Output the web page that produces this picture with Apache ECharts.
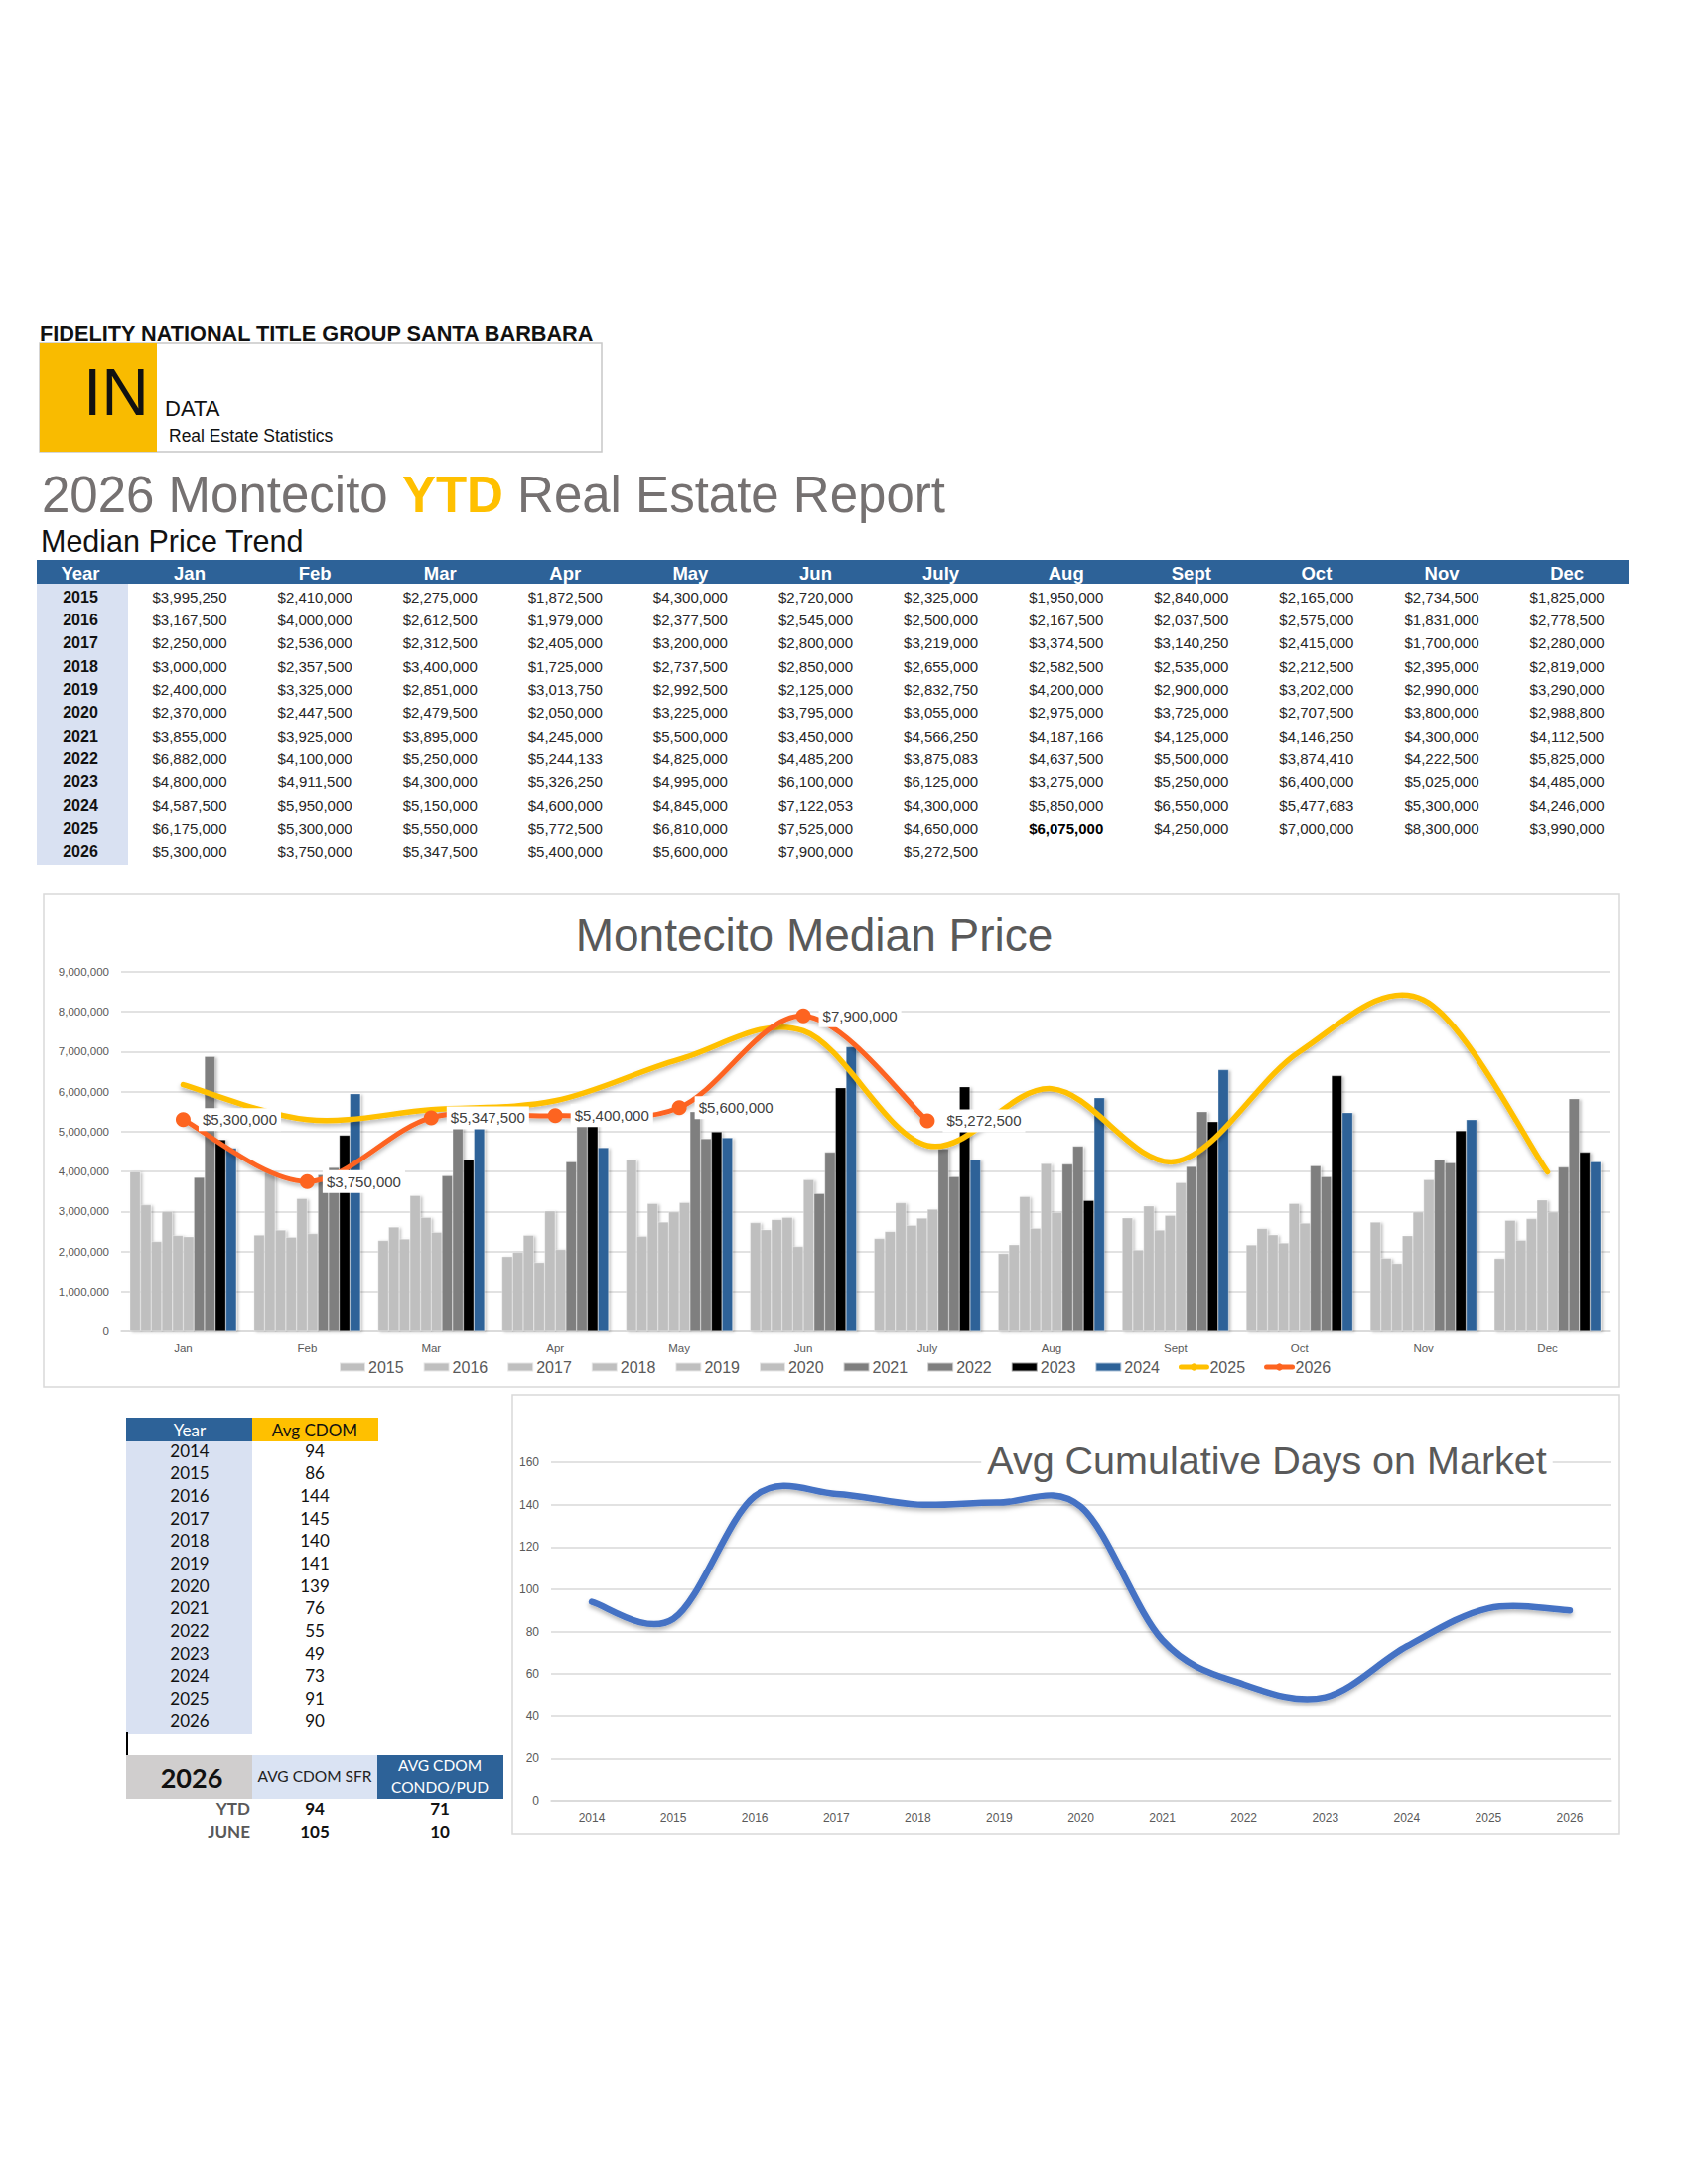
<!DOCTYPE html>
<html>
<head>
<meta charset="utf-8">
<script src="https://cdn.jsdelivr.net/npm/echarts@6.0.0/dist/echarts.min.js"></script>
<style>
html,body{margin:0;padding:0;background:#fff;}
#c{width:1700px;height:2200px;}
</style>
</head>
<body>
<div id="c"></div>
<script>
// ---------------- DATA ----------------
const months = ['Jan','Feb','Mar','Apr','May','Jun','July','Aug','Sept','Oct','Nov','Dec'];
const years = ['2015','2016','2017','2018','2019','2020','2021','2022','2023','2024','2025','2026'];
const price2015 = [3995250,2410000,2275000,1872500,4300000,2720000,2325000,1950000,2840000,2165000,2734500,1825000];
const price2016 = [3167500,4000000,2612500,1979000,2377500,2545000,2500000,2167500,2037500,2575000,1831000,2778500];
const price2017 = [2250000,2536000,2312500,2405000,3200000,2800000,3219000,3374500,3140250,2415000,1700000,2280000];
const price2018 = [3000000,2357500,3400000,1725000,2737500,2850000,2655000,2582500,2535000,2212500,2395000,2819000];
const price2019 = [2400000,3325000,2851000,3013750,2992500,2125000,2832750,4200000,2900000,3202000,2990000,3290000];
const price2020 = [2370000,2447500,2479500,2050000,3225000,3795000,3055000,2975000,3725000,2707500,3800000,2988800];
const price2021 = [3855000,3925000,3895000,4245000,5500000,3450000,4566250,4187166,4125000,4146250,4300000,4112500];
const price2022 = [6882000,4100000,5250000,5244133,4825000,4485200,3875083,4637500,5500000,3874410,4222500,5825000];
const price2023 = [4800000,4911500,4300000,5326250,4995000,6100000,6125000,3275000,5250000,6400000,5025000,4485000];
const price2024 = [4587500,5950000,5150000,4600000,4845000,7122053,4300000,5850000,6550000,5477683,5300000,4246000];
const price2025 = [6175000,5300000,5550000,5772500,6810000,7525000,4650000,6075000,4250000,7000000,8300000,3990000];
const price2026 = [5300000,3750000,5347500,5400000,5600000,7900000,5272500];
const priceRows = [price2015,price2016,price2017,price2018,price2019,price2020,price2021,price2022,price2023,price2024,price2025,price2026];

const priceTicks = [0,1000000,2000000,3000000,4000000,5000000,6000000,7000000,8000000,9000000];

const cdomYears = ['2014','2015','2016','2017','2018','2019','2020','2021','2022','2023','2024','2025','2026'];
const cdomValues = [94,86,144,145,140,141,139,76,55,49,73,91,90];
const cdomTicks = [0,20,40,60,80,100,120,140,160];

const summaryYear = '2026';
const summaryHeaders = ['AVG CDOM SFR','AVG CDOM\nCONDO/PUD'];
const summaryLabels = ['YTD','JUNE'];
const summarySFR = [94,105];
const summaryCondo = [71,10];

// ---------------- HELPERS ----------------
const fmtMoney = v => '$' + v.toLocaleString('en-US');
const AR = "'Liberation Sans', Arial, Helvetica, sans-serif";
const LATO = "Lato, 'Open Sans', sans-serif";

function txt(x, y, text, o) {
  o = o || {};
  return {
    type: 'text', x: x, y: y, z: o.z || 10,
    style: Object.assign({
      text: text,
      fill: o.fill || '#222',
      fontSize: o.size || 15,
      fontFamily: o.family || AR,
      fontWeight: o.weight || 'normal',
      textAlign: o.align || 'left',
      textVerticalAlign: 'middle'
    }, o.extra || {})
  };
}
function rect(x, y, w, h, fill, stroke, lw, z) {
  return {
    type: 'rect', z: z || 5,
    shape: {x: x, y: y, width: w, height: h},
    style: {fill: fill || 'none', stroke: stroke || null, lineWidth: lw || 0}
  };
}

const g = [];
// ---- header / logo ----
g.push(txt(40, 335, 'FIDELITY NATIONAL TITLE GROUP SANTA BARBARA', {size: 21.7, weight: 'bold', fill: '#111'}));
g.push(rect(40, 346, 566, 109, '#fff', '#c8c8c8', 1.5));
g.push(rect(40, 346, 118, 109, '#f9bb00'));
g.push(txt(84, 395, 'IN', {size: 66, fill: '#111'}));
g.push(txt(166, 411, 'DATA', {size: 22, fill: '#111'}));
g.push(txt(170, 439, 'Real Estate Statistics', {size: 17.5, fill: '#111'}));

g.push({
  type: 'text', x: 42, y: 498, z: 10,
  style: {
    text: '{a|2026 Montecito }{b|YTD}{a| Real Estate Report}',
    textVerticalAlign: 'middle',
    rich: {
      a: {fontSize: 51, fontFamily: AR, fill: '#757171', color: '#757171'},
      b: {fontSize: 51, fontFamily: AR, fontWeight: 'bold', fill: '#ffc000', color: '#ffc000'}
    }
  }
});
g.push(txt(41, 545, 'Median Price Trend', {size: 30.5, fill: '#111'}));

// ---- Median price table ----
const tblLeft = 37, tblRight = 1641, hdrTop = 564, hdrH = 24;
const rowY0 = 601, rowStep = 23.36, yearColX = 81, colX0 = 191, colStep = 126.1;
g.push(rect(tblLeft, hdrTop, tblRight - tblLeft, hdrH, '#2d6298'));
g.push(rect(tblLeft, hdrTop + hdrH, 92, 283, '#d9e1f2'));
g.push(txt(yearColX, hdrTop + hdrH / 2 + 1, 'Year', {size: 18.5, weight: 'bold', fill: '#fff', align: 'center'}));
months.forEach((m, j) => {
  g.push(txt(colX0 + j * colStep, hdrTop + hdrH / 2 + 1, m, {size: 18.5, weight: 'bold', fill: '#fff', align: 'center'}));
});
years.forEach((yr, i) => {
  const y = rowY0 + i * rowStep;
  g.push(txt(yearColX, y, yr, {size: 16, weight: 'bold', fill: '#111', align: 'center'}));
  priceRows[i].forEach((v, j) => {
    const bold = (yr === '2025' && months[j] === 'Aug');
    g.push(txt(colX0 + j * colStep, y, fmtMoney(v), {size: 15, fill: bold ? '#000' : '#262626', weight: bold ? 'bold' : 'normal', align: 'center'}));
  });
});

// ---- chart boxes and titles ----
g.push(rect(44, 901, 1587, 496, 'none', '#d9d9d9', 1.5, 1));
g.push(txt(820, 942, 'Montecito Median Price', {size: 46, fill: '#595959', align: 'center'}));
g.push(rect(516, 1405, 1115, 442, 'none', '#d9d9d9', 1.5, 1));
g.push(txt(1276, 1471, 'Avg Cumulative Days on Market', {size: 39.5, fill: '#595959', align: 'center', z: 50,
  extra: {backgroundColor: '#fff', padding: [0, 6]}}));

// ---- CDOM table ----
const cLeft = 127, cMid = 254, cRight = 381, cHdrTop = 1428, cHdrH = 24, cRow0 = 1461, cStep = 22.67;
g.push(rect(cLeft, cHdrTop, cMid - cLeft, cHdrH, '#2d6298'));
g.push(rect(cMid, cHdrTop, cRight - cMid, cHdrH, '#ffc000'));
g.push(rect(cLeft, cHdrTop + cHdrH, cMid - cLeft, 295, '#d9e1f2'));
g.push(txt(191, cHdrTop + 12, 'Year', {size: 17, family: LATO, fill: '#fff', align: 'center'}));
g.push(txt(317, cHdrTop + 12, 'Avg CDOM', {size: 17, family: LATO, fill: '#111', align: 'center'}));
cdomYears.forEach((yr, i) => {
  const y = cRow0 + i * cStep;
  g.push(txt(191, y, yr, {size: 17, family: LATO, fill: '#111', align: 'center'}));
  g.push(txt(317, y, String(cdomValues[i]), {size: 17, family: LATO, fill: '#111', align: 'center'}));
});
g.push(rect(127, 1745, 2, 23, '#000'));
// summary block
g.push(rect(127, 1768, 127, 44, '#d0cece'));
g.push(rect(254, 1768, 126, 44, '#dae3f3'));
g.push(rect(380, 1768, 127, 44, '#2d6298'));
g.push(txt(193, 1790, summaryYear, {size: 27, family: LATO, weight: 'bold', fill: '#111', align: 'center'}));
g.push(txt(317, 1789, summaryHeaders[0], {size: 15.5, family: LATO, fill: '#222', align: 'center'}));
g.push(txt(443, 1778, summaryHeaders[1].split('\n')[0], {size: 15.5, family: LATO, fill: '#fff', align: 'center'}));
g.push(txt(443, 1800, summaryHeaders[1].split('\n')[1], {size: 15.5, family: LATO, fill: '#fff', align: 'center'}));
summaryLabels.forEach((lab, i) => {
  const y = 1821 + i * 23;
  g.push(txt(252, y, lab, {size: 17, family: LATO, weight: 'bold', fill: '#595959', align: 'right'}));
  g.push(txt(317, y, String(summarySFR[i]), {size: 17, family: LATO, weight: 'bold', fill: '#111', align: 'center'}));
  g.push(txt(443, y, String(summaryCondo[i]), {size: 17, family: LATO, weight: 'bold', fill: '#111', align: 'center'}));
});

// ---------------- SERIES ----------------
// Excel-style smoothed curve (Catmull-Rom) through points placed by the axes (api.coord)
function smoothCurve(values, axisIdx, color, width, z) {
  return {
    type: 'custom', name: '_curve' + color + axisIdx, xAxisIndex: axisIdx, yAxisIndex: axisIdx,
    data: values.map((v, i) => [i, v]), encode: {x: 0, y: 1}, z: z, clip: false, silent: true,
    renderItem: function (params, api) {
      if (params.dataIndex !== 0) return null;
      const pts = values.map((v, i) => api.coord([i, v]));
      let d = 'M' + pts[0][0] + ',' + pts[0][1];
      for (let i = 0; i < pts.length - 1; i++) {
        const p0 = pts[i - 1] || pts[i], p1 = pts[i], p2 = pts[i + 1], p3 = pts[i + 2] || pts[i + 1];
        const c1x = p1[0] + (p2[0] - p0[0]) / 6, c1y = p1[1] + (p2[1] - p0[1]) / 6;
        const c2x = p2[0] - (p3[0] - p1[0]) / 6, c2y = p2[1] - (p3[1] - p1[1]) / 6;
        d += ' C' + c1x + ',' + c1y + ' ' + c2x + ',' + c2y + ' ' + p2[0] + ',' + p2[1];
      }
      return {
        type: 'path', shape: {pathData: d},
        style: {fill: 'none', stroke: color, lineWidth: width, lineCap: 'round', lineJoin: 'round',
          shadowColor: 'rgba(0,0,0,0.28)', shadowBlur: 4, shadowOffsetY: 3}
      };
    }
  };
}

const barColors = ['#bfbfbf','#bfbfbf','#bfbfbf','#bfbfbf','#bfbfbf','#bfbfbf','#7f7f7f','#7f7f7f','#000000','#2d6298'];
const series = [];
for (let i = 0; i < 10; i++) {
  series.push({
    type: 'bar', name: years[i], xAxisIndex: 0, yAxisIndex: 0,
    data: priceRows[i], barGap: '0%', barCategoryGap: '14%', z: 2,
    itemStyle: {color: barColors[i], borderColor: 'rgba(255,255,255,0.6)', borderWidth: 0.5,
      shadowColor: 'rgba(0,0,0,0.25)', shadowBlur: 3, shadowOffsetX: 2, shadowOffsetY: 1}
  });
}
const C25 = '#ffc000', C26 = '#fd6420', CBLUE = '#4472c4';
series.push(smoothCurve(price2025, 0, C25, 5.5, 4));
series.push(smoothCurve(price2026, 0, C26, 5, 5));
series.push(smoothCurve(cdomValues, 1, CBLUE, 6.5, 4));
// line series carrying legend entries, markers and data labels
series.push({
  type: 'line', name: '2025', xAxisIndex: 0, yAxisIndex: 0, data: price2025,
  symbol: 'none', z: 4, lineStyle: {color: C25, width: 5.5, opacity: 0}, itemStyle: {color: C25}
});
series.push({
  type: 'line', name: '2026', xAxisIndex: 0, yAxisIndex: 0, data: price2026,
  symbol: 'circle', symbolSize: 15, z: 6,
  lineStyle: {color: C26, width: 5, opacity: 0},
  itemStyle: {color: C26},
  label: {
    show: true, position: 'right', distance: 8,
    formatter: p => fmtMoney(p.value),
    backgroundColor: '#fff', padding: [4, 4], color: '#404040',
    fontSize: 15, fontFamily: AR
  }
});

const legendData = years.map((y, i) => {
  if (i < 10) return {name: y, icon: 'rect'};
  const c = i === 10 ? C25 : C26;
  return {name: y, lineStyle: {color: c, width: 5, opacity: 1, cap: 'round'}, itemStyle: {color: c}};
});

const option = {
  animation: false,
  backgroundColor: '#fff',
  graphic: {elements: g},
  legend: {
    data: legendData, left: 336, top: 1364, itemWidth: 26, itemHeight: 9, itemGap: 19,
    textStyle: {fontSize: 16, color: '#595959', fontFamily: AR, padding: [0, 0, 0, -2]},
    selectedMode: false
  },
  grid: [
    {left: 122, right: 79, top: 979, height: 362, containLabel: false, outerBoundsMode: 'none'},
    {left: 555, right: 78, top: 1473, height: 341, containLabel: false, outerBoundsMode: 'none'}
  ],
  xAxis: [
    {type: 'category', gridIndex: 0, data: months,
      axisLine: {lineStyle: {color: '#d9d9d9', width: 1.5}}, axisTick: {show: false},
      axisLabel: {color: '#595959', fontSize: 11.5, fontFamily: AR, margin: 11}},
    {type: 'category', gridIndex: 1, data: cdomYears,
      axisLine: {lineStyle: {color: '#d9d9d9', width: 1.5}}, axisTick: {show: false},
      axisLabel: {color: '#595959', fontSize: 12, fontFamily: AR, margin: 11}}
  ],
  yAxis: [
    {type: 'value', gridIndex: 0, min: priceTicks[0], max: priceTicks[priceTicks.length - 1], interval: 1000000,
      axisLine: {show: false}, axisTick: {show: false},
      splitLine: {lineStyle: {color: '#d9d9d9', width: 1.5}},
      axisLabel: {color: '#595959', fontSize: 11.5, fontFamily: AR, margin: 12, formatter: v => v.toLocaleString('en-US')}},
    {type: 'value', gridIndex: 1, min: cdomTicks[0], max: cdomTicks[cdomTicks.length - 1], interval: 20,
      axisLine: {show: false}, axisTick: {show: false},
      splitLine: {lineStyle: {color: '#d9d9d9', width: 1.5}},
      axisLabel: {color: '#595959', fontSize: 12, fontFamily: AR, margin: 12}}
  ],
  series: series
};

const chart = echarts.init(document.getElementById('c'), null, {renderer: 'svg', width: 1700, height: 2200});
chart.setOption(option);
</script>
</body>
</html>
